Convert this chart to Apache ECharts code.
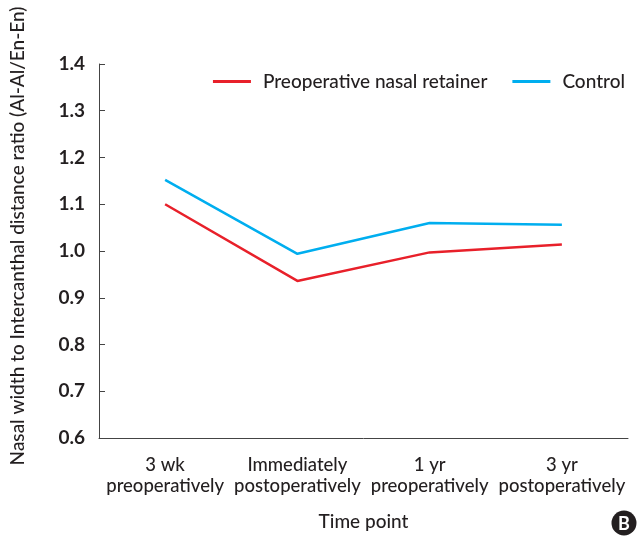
<!DOCTYPE html>
<html><head><meta charset="utf-8">
<script src="https://cdn.jsdelivr.net/npm/echarts@6/dist/echarts.min.js"></script>
<style>html,body{margin:0;padding:0;background:#fff}#c{width:641px;height:536px}</style>
</head><body><div id="c"></div>
<script>
var categories = ['3 wk\npreoperatively', 'Immediately\npostoperatively', '1 yr\npreoperatively', '3 yr\npostoperatively'];
var retainerValues = [1.100, 0.936, 0.997, 1.014];
var controlValues = [1.152, 0.994, 1.060, 1.056];
var yTicks = [0.6, 0.7, 0.8, 0.9, 1.0, 1.1, 1.2, 1.3, 1.4];
var txt = '#231f20';
var font = 'Lato';
var chart = echarts.init(document.getElementById('c'));
chart.setOption({
  animation: false,
  textStyle: {fontFamily: font, color: txt},
  legend: {
    right: 11, top: 67,
    itemWidth: 38, itemHeight: 3, itemGap: 25,
    textStyle: {fontFamily: font, fontSize: 19, color: txt, fontWeight: 500, padding: [0, 0, 0, 7]},
    data: [{name: 'Preoperative nasal retainer', icon: 'rect'}, {name: 'Control', icon: 'rect'}]
  },
  grid: {left: 99, right: 13, top: 64, bottom: 95},
  xAxis: {
    type: 'category', data: categories, boundaryGap: true,
    name: 'Time point', nameLocation: 'middle', nameGap: 74,
    nameTextStyle: {fontFamily: font, fontSize: 19, color: txt, fontWeight: 500},
    axisLine: {lineStyle: {color: '#444', width: 1}},
    axisTick: {show: false},
    axisLabel: {fontFamily: font, fontSize: 18.5, color: txt, lineHeight: 21, margin: 17, fontWeight: 500, interval: 0}
  },
  yAxis: {
    type: 'value', min: yTicks[0], max: yTicks[yTicks.length - 1], interval: 0.1,
    name: 'Nasal width to Intercanthal distance ratio (Al-Al/En-En)',
    nameLocation: 'middle', nameGap: 72, nameRotate: 90,
    nameTextStyle: {fontFamily: font, fontSize: 19, color: txt, fontWeight: 500, padding: [0, 0, 0, 30]},
    splitLine: {show: false},
    axisLine: {show: true, lineStyle: {color: '#444', width: 1}},
    axisTick: {show: true, inside: true, length: 6, lineStyle: {color: '#444'}},
    axisLabel: {fontFamily: font, fontSize: 19, color: txt, margin: 14, fontWeight: 'bold',
      formatter: function (v) { return v.toFixed(1); }}
  },
  series: [
    {name: 'Preoperative nasal retainer', type: 'line', data: retainerValues, symbol: 'none',
      lineStyle: {color: '#e8202a', width: 2.5}, itemStyle: {color: '#e8202a'}},
    {name: 'Control', type: 'line', data: controlValues, symbol: 'none',
      lineStyle: {color: '#00aeef', width: 2.5}, itemStyle: {color: '#00aeef'}}
  ],
  graphic: [
    {type: 'circle', shape: {cx: 624, cy: 523, r: 12.5}, style: {fill: '#231f20'}},
    {type: 'text', x: 624, y: 524, style: {text: 'B', fill: '#fff', font: 'bold 18px Lato', align: 'center', verticalAlign: 'middle'}}
  ]
});
</script></body></html>
